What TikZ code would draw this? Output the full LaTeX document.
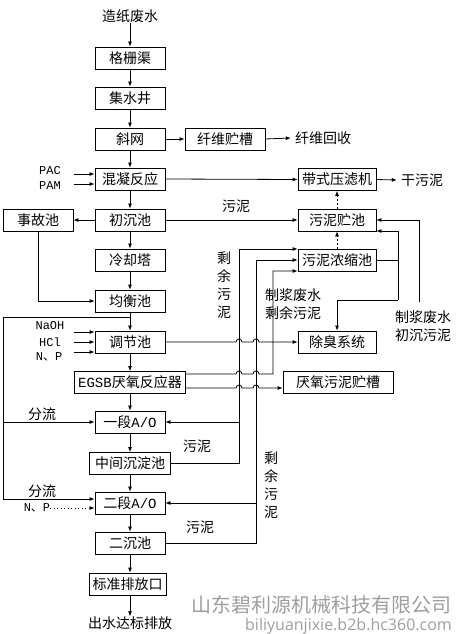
\documentclass[tikz,border=0pt]{standalone}
\usepackage{fontspec}
\setmainfont{Noto Sans CJK SC}
\newfontfamily\lat{Liberation Mono}
\newfontfamily\wmfont{Open Sans}
\usetikzlibrary{arrows.meta,calc}
\begin{document}
\begin{tikzpicture}[x=1pt,y=-1pt,
  box/.style={draw, line width=0.8pt, minimum height=22pt, minimum width=70pt, inner sep=0pt, font=\fontsize{14}{14}\selectfont},
  lbl/.style={inner sep=0pt, font=\fontsize{14}{14}\selectfont},
  vlbl/.style={inner sep=0pt, align=center, font=\fontsize{14}{18}\selectfont},
  chem/.style={inner sep=0pt, font=\lat\fontsize{12}{12}\selectfont},
  ln/.style={line width=0.8pt},
  arr/.style={line width=0.8pt, -{Latex[length=5pt,width=4pt]}},
  darr/.style={arr, dash pattern=on 2pt off 2pt},
  dotarr/.style={arr, dash pattern=on 1pt off 2.5pt},
  wm/.style={inner sep=0pt, anchor=east, text=black!38}]
\useasboundingbox (0,0) rectangle (458,634);

% main column
\node[lbl] (src) at (130,16) {造纸废水};
\node[box] (gs) at (130,58) {格栅渠};
\node[box] (jsj) at (130,98) {集水井};
\node[box] (xw) at (130,139) {斜网};
\node[box, minimum width=80pt] (xwc) at (225,139) {纤维贮槽};
\node[lbl] (xwhs) at (323,138) {纤维回收};
\node[box] (hn) at (130,179) {混凝反应};
\node[box, minimum width=78pt] (dy) at (337,179.5) {带式压滤机};
\node[lbl] (gwn) at (422,180) {干污泥};
\node[box] (cc) at (130,220) {初沉池};
\node[box] (sg) at (38,220) {事故池};
\node[box, minimum width=78pt] (wnzc) at (337,220) {污泥贮池};
\node[box, minimum width=78pt] (wnns) at (337,260) {污泥浓缩池};
\node[box] (lqt) at (130,260) {冷却塔};
\node[box] (jh) at (130,301) {均衡池};
\node[box] (tj) at (130,342) {调节池};
\node[box, minimum width=78pt] (cx) at (337,342) {除臭系统};
\node[box, minimum width=111pt] (egsb) at (130,382.5) {{\lat EGSB}厌氧反应器};
\node[box, minimum width=110pt] (yy) at (338,382.5) {厌氧污泥贮槽};
\node[box] (ydao) at (130,422) {一段{\lat A/O}};
\node[box, minimum width=81pt] (zj) at (130,463.5) {中间沉淀池};
\node[box] (edao) at (130,503) {二段{\lat A/O}};
\node[box] (ec) at (130,543) {二沉池};
\node[box, minimum width=77pt] (bz) at (127.5,584) {标准排放口};
\node[lbl] (out) at (130,623) {出水达标排放};

% main flow arrows
\foreach \a/\b in {src/gs, gs/jsj, jsj/xw, xw/hn, hn/cc, cc/lqt, lqt/jh, jh/tj, tj/egsb, egsb/ydao, ydao/zj, zj/edao, edao/ec, ec/bz}
  \draw[arr] (\a.south) -- (\a.south |- \b.north);
\draw[arr] (bz.south -| out.north) -- (out.north);

% fibre line
\draw[arr] (xw.east) -- (xwc.west);
\draw[arr] (xwc.east) -- ([xshift=-4pt]xwhs.west);

% chemicals
\node[chem] (pac) at (50,171) {PAC};
\node[chem] (pam) at (50,186) {PAM};
\coordinate (pacs) at (74,174);
\coordinate (pams) at (74,184);
\draw[arr] (pacs) -- ([yshift=5pt]hn.west);
\draw[arr] (pams) -- ([yshift=-5pt]hn.west);

\node[chem] (naoh) at (50,326) {NaOH};
\node[chem] (hcl) at (50,342) {HCl};
\node[lbl, font=\fontsize{12}{12}\selectfont] (np1) at (49,357) {{\lat N}、{\lat P}};
\coordinate (na) at (74,332);
\coordinate (hc) at (74,342);
\coordinate (npa) at (74,352);
\draw[arr] (na) -- ([yshift=10pt]tj.west);
\draw[arr] (hc) -- (tj.west);
\draw[arr] (npa) -- ([yshift=-10pt]tj.west);

% filter press / sludge
\draw[arr] (hn.east) -- (dy.west);
\draw[arr] (dy.east) -- ([xshift=-4pt]gwn.west);
\draw[arr] (cc.east) -- (wnzc.west);
\node[lbl] (wn1) at (236,206) {污泥};
\draw[darr] (wnzc.north) -- (dy.south);
\draw[darr] (wnns.north) -- (wnzc.south);

% accident pool
\draw[arr] (cc.west) -- (sg.east);
\draw[arr] (sg.south) |- (jh.west);

% split flow
\coordinate (sp) at (130,317);
\draw[ln] (sp) -- (3,317) -- (3,499);
\draw[arr] (3,499) -- ([yshift=4pt]edao.west);
\draw[arr] (3,422) -- (ydao.west);
\node[lbl] (fl1) at (42,414) {分流};
\node[lbl] (fl2) at (42,491) {分流};
\node[lbl, font=\fontsize{12}{12}\selectfont] (np2) at (37,507.5) {{\lat N}、{\lat P}};
\coordinate (npd) at (50,508);
\draw[dotarr] (npd) -- ([yshift=-5pt]edao.west);

% sludge lines to thickener
\draw[arr] (zj.east) -| (239,249) -- ([yshift=11pt]wnns.west);
\draw[arr] (239,422) -- (ydao.east);
\node[lbl] (wn2) at (197,446) {污泥};
\node[vlbl] (sy1) at (224,285) {剩\\余\\污\\泥};

\draw[arr] (ec.east) -| (256,260) -- (wnns.west);
\draw[arr] (256,503) -- (edao.east);
\node[lbl] (wn3) at (200,527) {污泥};
\node[vlbl] (sy2) at (271,485) {剩\\余\\污\\泥};

% lines with hops
\draw[arr] (tj.east) -- (236,342) arc (180:360:3) -- (253,342) arc (180:360:3) -- (cx.west);
\draw[arr] ([yshift=8.5pt]egsb.east) -- (236,374) arc (180:360:3) -- (253,374) arc (180:360:3) -- (273,374) -- (273,271) -- ([yshift=-11pt]wnns.west);
\draw[arr] ([yshift=-5.5pt]egsb.east) -- (236,388) arc (180:360:3) -- (253,388) arc (180:360:3) -- ([yshift=-5.5pt]yy.west);
\node[vlbl] (zjfs) at (293,304) {制浆废水\\剩余污泥};

% right side
\draw[ln] (wnns.east) -- (398,260);
\draw[arr] (398,300) -- (398,231) -- ([yshift=-11pt]wnzc.east);
\draw[arr] (398,300) -- (337,300) -- (cx.north);
\coordinate (pw) at (419,302);
\draw[arr] (pw) -- (419,220) -- (wnzc.east);
\node[vlbl] (zjcc) at (423,326) {制浆废水\\初沉污泥};

% watermark
\node[wm, font=\fontsize{20}{20}\selectfont] (wm1) at (452,605) {山东碧利源机械科技有限公司};
\node[wm, font=\wmfont\fontsize{16}{16}\selectfont] (wm2) at (452,626) {biliyuanjixie.b2b.hc360.com};
\end{tikzpicture}
\end{document}
